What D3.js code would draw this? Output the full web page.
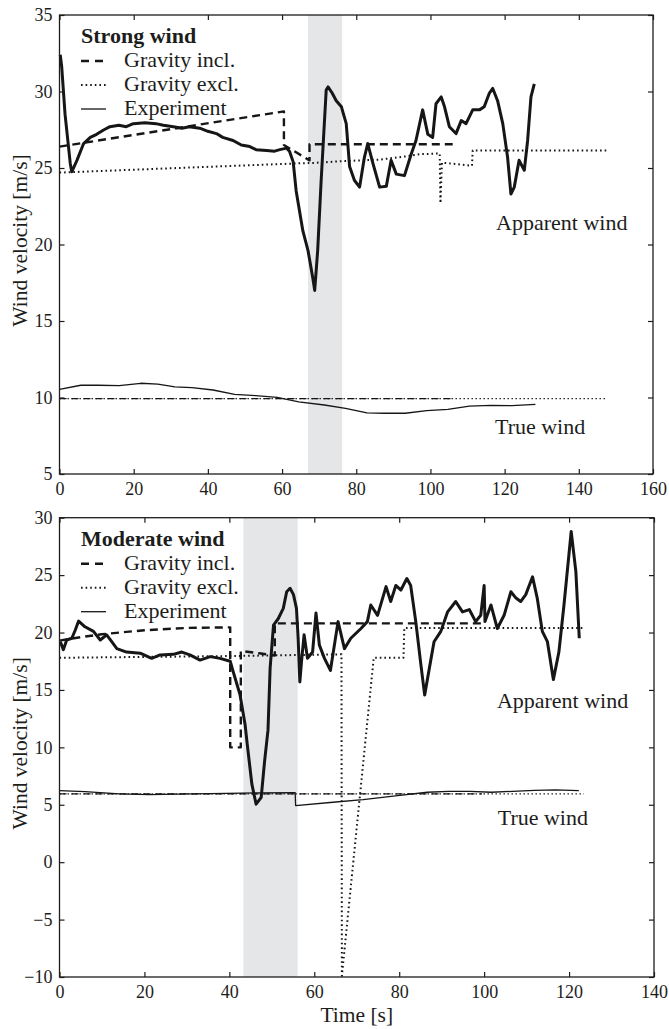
<!DOCTYPE html>
<html>
<head>
<meta charset="utf-8">
<title>Wind velocity</title>
<style>
  body { margin: 0; background: #fff; }
  svg text { font-family: "Liberation Serif", "DejaVu Serif", serif; fill: #1d1d1b; }
  .tick text { font-size: 18px; }
</style>
</head>
<body>
<div id="chart"></div>
<script src="https://cdn.jsdelivr.net/npm/d3@7"></script>
<script>
// ---- data: [time s, velocity m/s] ----
const strongExpApparent = [[0.2,32.4],[0.6,31.6],[1.5,28.5],[2.9,25.3],[3.3,24.75],[4.7,25.5],[6.5,26.6],[8.3,27.0],[10,27.2],
  [12,27.5],[13.6,27.7],[16,27.8],[18,27.7],[19.9,27.9],[23,27.95],[26,27.9],[28,27.8],[30.7,27.7],[33,27.6],[35,27.7],
  [37.8,27.6],[40,27.4],[42.3,27.25],[44,27.0],[46.8,26.8],[49,26.5],[51.3,26.4],[53,26.2],[55.8,26.15],[58,26.1],
  [59.4,26.2],[61.2,26.3],[62,26.1],[63,25.4],[63.8,23.5],[65.6,20.9],[67.0,19.6],[68.3,17.8],[68.8,17.0],[69.6,19.6],
  [70.5,24.0],[71.9,30.1],[72.4,30.3],[73.5,29.9],[74.6,29.4],[76,29.0],[77.3,27.9],[78.2,25.1],[79.5,24.2],[80.9,23.75],
  [82.2,25.7],[83.1,26.6],[84.5,25.3],[86.3,23.75],[88.1,23.8],[89.4,25.5],[90.8,24.6],[93,24.5],[94.8,25.9],[96.1,26.8],
  [97.9,28.8],[99.3,27.2],[100.6,27.0],[101.5,29.2],[102.9,29.65],[103.8,29.0],[105.1,27.7],[106.9,27.25],[108.3,28.1],
  [109.6,27.9],[111.4,28.8],[113.2,28.8],[114.5,29.0],[115.9,29.9],[116.8,30.2],[118.1,29.4],[119.5,27.9],[120.8,25.7],
  [121.7,23.3],[122.6,23.75],[123.9,25.5],[125.3,24.85],[126.2,26.8],[127.1,29.65],[128,30.5]];
const strongInclApparent = [[0,26.4],[60.5,28.7],[60.5,26.5],[63.3,26.1],[67.4,25.5],[67.4,26.55],[106,26.55]];
const strongExclApparent = [[0,24.7],[64,25.3],[68.3,25.33],[77.3,25.46],[86.3,25.55],[93.4,25.76],[97,25.9],[102.5,25.95],
  [102.7,22.7],[103.1,25.35],[111.2,25.15],[111.4,26.15],[147.7,26.15]];
const strongExpTrue = [[0,10.53],[5.75,10.8],[10.4,10.8],[16.1,10.77],[21.9,10.93],[26.5,10.88],[31.1,10.7],[35.7,10.64],
  [41.4,10.49],[47.2,10.2],[52.9,10.12],[58.7,10.01],[64.5,9.71],[71.4,9.51],[77.1,9.29],[82.9,9.0],[87.5,8.97],[93.2,8.97],
  [99,9.14],[104.7,9.23],[110.5,9.44],[116.3,9.49],[122,9.47],[128.3,9.55]];
const strongInclTrue = [[0,9.92],[106,9.92]];
const strongExclTrue = [[0,9.92],[147.7,9.92]];
const strongBand = [67, 76.2];

const moderateExpApparent = [[0.2,19.2],[0.9,18.5],[1.7,19.35],[2.9,19.5],[3.7,20.2],[4.5,21.0],[6,20.5],[8,20.1],[9.6,19.35],
  [11.1,19.8],[12.3,19.2],[13.5,18.6],[15.8,18.3],[19,18.2],[21.7,17.75],[23.7,18.05],[26.8,18.1],[28.8,18.3],[30.7,18.05],
  [33.1,17.6],[35.5,17.9],[37.8,17.75],[40.2,17.5],[40.9,16.6],[42.5,14.6],[43.7,12.0],[44.2,10.3],[45.3,6.8],[46.3,5.05],
  [47.5,5.65],[48.3,8.8],[49.1,11.5],[49.6,16.9],[50.4,20.65],[51.5,21.2],[52.7,22.1],[53.5,23.55],[54.3,23.85],[55.1,23.3],
  [55.8,22.1],[56.2,19.5],[56.6,15.7],[57,17.5],[57.6,19.8],[58.4,17.75],[59.6,18.3],[60.4,21.7],[61.2,18.9],[62.4,17.75],
  [63.8,16.7],[65.6,20.95],[67.1,18.6],[68.6,19.5],[71,20.35],[72.5,20.95],[73.3,22.4],[74.9,21.5],[76.9,24.0],[78,22.7],
  [79.2,24.1],[80.4,23.7],[81.8,24.7],[82.7,24.1],[83.9,20.95],[85.1,17.2],[86,14.55],[87.1,16.9],[88.2,19.2],[89.8,20.1],
  [91.4,21.8],[93.3,22.7],[94.9,21.8],[96.5,22.0],[98,20.95],[99.2,21.5],[100,24.1],[100.2,20.95],[101.6,22.4],[103.1,20.35],
  [104.7,21.5],[106.3,23.55],[107.5,23.0],[108.6,22.7],[109.8,23.3],[111.4,24.85],[112.5,23.0],[113.7,20.1],[114.9,19.2],
  [116.3,15.9],[117.6,18.3],[118.8,22.4],[120.5,28.8],[121.6,25.3],[122.4,19.5]];
const moderateInclApparent = [[0,19.3],[5,19.6],[10,19.85],[20,20.2],[30,20.4],[40.2,20.45],[40.2,10.0],[42.7,10.0],
  [42.7,18.4],[47,18.2],[50.7,18.0],[50.7,20.8],[99.5,20.8]];
const moderateExclApparent = [[0,17.8],[40.2,17.95],[66.4,18.1],[66.5,-9.9],[74,17.8],[81,17.8],[81.2,20.4],[123.5,20.4]];
const moderateExpTrue = [[0,6.23],[6,6.14],[14.1,5.94],[21.1,5.88],[31.2,5.94],[39.3,6.0],[46.3,6.03],[55.5,6.06],[55.6,4.93],
  [64.4,5.22],[71.5,5.45],[79.6,5.8],[86.6,6.09],[91.6,6.17],[96.7,6.17],[101.7,6.09],[106.7,6.17],[111.8,6.26],
  [116.8,6.29],[122.3,6.23]];
const moderateInclTrue = [[0,5.95],[99.5,5.95]];
const moderateExclTrue = [[0,5.95],[123.5,5.95]];
const moderateBand = [43.3, 56.1];

const legendLabels = ["Gravity incl.", "Gravity excl.", "Experiment"];
const strongTicksX = d3.range(0, 161, 20), strongTicksY = d3.range(5, 36, 5);
const moderateTicksX = d3.range(0, 141, 20), moderateTicksY = d3.range(-10, 31, 5);
// annotation anchors in data units
const strongNotes = [["Apparent wind", 117.7, 20.95], ["True wind", 117.4, 7.6]];
const moderateNotes = [["Apparent wind", 103.0, 13.4], ["True wind", 103.2, 3.27]];

const W = 669, H = 1029;
const svg = d3.select("#chart").append("svg").attr("width", W).attr("height", H);

const styles = {
  exp:  {w: 3, dash: null},
  incl: {w: 2.4, dash: "8,5"},
  excl: {w: 2, dash: "1.6,3"},
  expT: {w: 1.3, dash: null},
  inclT:{w: 1.3, dash: "7,5"},
  exclT:{w: 1.3, dash: "1.4,2.6"}
};

function drawPanel(p) {
  const x = d3.scaleLinear().domain(p.xDomain).range([p.left, p.right]);
  const y = d3.scaleLinear().domain(p.yDomain).range([p.bottom, p.top]);
  const g = svg.append("g");

  //grey band
  g.append("rect")
    .attr("x", x(p.band[0])).attr("y", p.top)
    .attr("width", x(p.band[1]) - x(p.band[0])).attr("height", p.bottom - p.top)
    .attr("fill", "#e5e6e8");

  const line = d3.line().x(d => x(d[0])).y(d => y(d[1]));
  p.series.forEach(s => {
    g.append("path")
      .attr("d", line(s.data))
      .attr("fill", "none")
      .attr("stroke", "#161616")
      .attr("stroke-width", styles[s.style].w)
      .attr("stroke-dasharray", styles[s.style].dash)
      .attr("stroke-linejoin", "round");
  });

  //axes, ticks pointing in
  const bottomAx = g.append("g").attr("transform", `translate(0,${p.bottom})`)
    .call(d3.axisBottom(x).tickValues(p.ticksX).tickSizeInner(-5).tickSizeOuter(0).tickPadding(8));
  const leftAx = g.append("g").attr("transform", `translate(${p.left},0)`)
    .call(d3.axisLeft(y).tickValues(p.ticksY).tickSizeInner(-5).tickSizeOuter(0).tickPadding(7));
  g.append("g").attr("transform", `translate(0,${p.top})`)
    .call(d3.axisTop(x).tickValues(p.ticksX).tickSizeInner(-5).tickSizeOuter(0).tickFormat(""));
  g.append("g").attr("transform", `translate(${p.right},0)`)
    .call(d3.axisRight(y).tickValues(p.ticksY).tickSizeInner(-5).tickSizeOuter(0).tickFormat(""));
  g.selectAll(".domain").remove();
  g.selectAll(".tick line").attr("stroke", "#1d1d1b").attr("stroke-width", 1.2);
  g.selectAll(".tick text").attr("fill", "#1d1d1b");

  g.append("rect")
    .attr("x", p.left).attr("y", p.top)
    .attr("width", p.right - p.left).attr("height", p.bottom - p.top)
    .attr("fill", "none").attr("stroke", "#1d1d1b").attr("stroke-width", 1.3);

  //y label
  g.append("text")
    .attr("transform", `translate(27,${(p.top + p.bottom) / 2 - 4}) rotate(-90)`)
    .attr("text-anchor", "middle")
    .style("font-size", "21.5px")
    .text("Wind velocity [m/s]");

  //legend
  const lg = g.append("g").attr("transform", `translate(81,${p.top + 28})`);
  lg.append("text").attr("x", 0).attr("y", 0)
    .style("font-size", "22px").style("font-weight", "bold").text(p.title);
  ["incl", "excl", "expT"].forEach((st, i) => {
    const yy = 24 * (i + 1);
    lg.append("line").attr("x1", 0).attr("x2", 25).attr("y1", yy - 6).attr("y2", yy - 6)
      .attr("stroke", "#161616")
      .attr("stroke-width", st === "expT" ? 1.3 : styles[st].w)
      .attr("stroke-dasharray", st === "incl" ? "8,6" : styles[st].dash);
    lg.append("text").attr("x", 43).attr("y", yy).style("font-size", "22px").text(legendLabels[i]);
  });

  p.notes.forEach(n => {
    g.append("text").attr("x", x(n[1])).attr("y", y(n[2]))
      .style("font-size", "22px").text(n[0]);
  });
  return x;
}

drawPanel({
  left: 59.5, right: 653, top: 15, bottom: 474,
  xDomain: [0, 160], yDomain: [5, 35],
  ticksX: strongTicksX, ticksY: strongTicksY,
  band: strongBand, title: "Strong wind", notes: strongNotes,
  series: [
    {data: strongExclTrue, style: "exclT"},
    {data: strongInclTrue, style: "inclT"},
    {data: strongExpTrue, style: "expT"},
    {data: strongExclApparent, style: "excl"},
    {data: strongInclApparent, style: "incl"},
    {data: strongExpApparent, style: "exp"}
  ]
});

const xb = drawPanel({
  left: 59.5, right: 654, top: 517.7, bottom: 977,
  xDomain: [0, 140], yDomain: [-10, 30],
  ticksX: moderateTicksX, ticksY: moderateTicksY,
  band: moderateBand, title: "Moderate wind", notes: moderateNotes,
  series: [
    {data: moderateExclTrue, style: "exclT"},
    {data: moderateInclTrue, style: "inclT"},
    {data: moderateExpTrue, style: "expT"},
    {data: moderateExclApparent, style: "excl"},
    {data: moderateInclApparent, style: "incl"},
    {data: moderateExpApparent, style: "exp"}
  ]
});

svg.append("text")
  .attr("x", xb(70)).attr("y", 1022)
  .attr("text-anchor", "middle")
  .style("font-size", "21.5px")
  .text("Time [s]");
</script>
</body>
</html>
